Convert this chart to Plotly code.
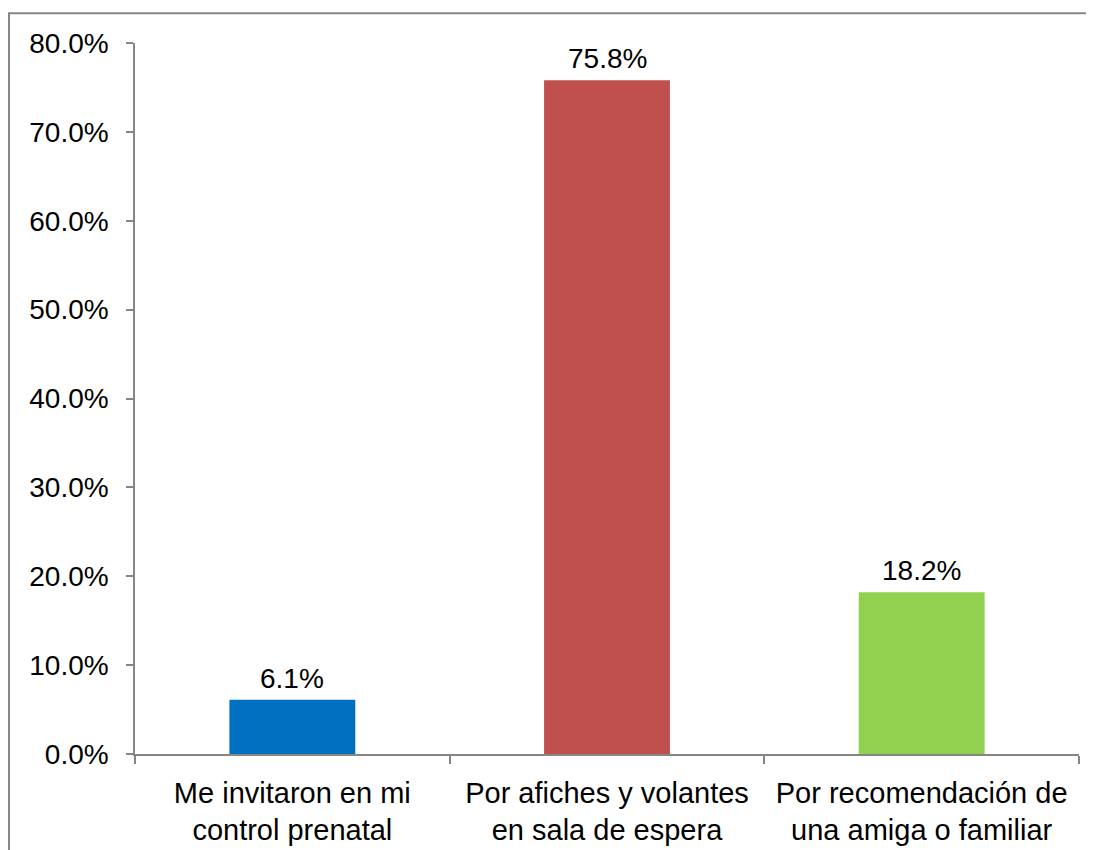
import plotly.graph_objects as go

categories = ["Me invitaron en mi<br>control prenatal",
              "Por afiches y volantes<br>en sala de espera",
              "Por recomendación de<br>una amiga o familiar"]
values = [6.1, 75.8, 18.2]
colors = ["#0070C0", "#C0504D", "#92D050"]
ytick_vals = [0, 10, 20, 30, 40, 50, 60, 70, 80]
ytick_text = ["0.0%", "10.0%", "20.0%", "30.0%", "40.0%", "50.0%", "60.0%", "70.0%", "80.0%"]

FONT = "Liberation Sans, Arial, sans-serif"
GRAY = "#868686"

fig = go.Figure(go.Bar(
    x=categories, y=values,
    marker=dict(color=colors, line=dict(width=0)),
    width=0.4,
    cliponaxis=False,
))

for c, v in zip(categories, values):
    fig.add_annotation(x=c, y=v, xref="x", yref="y", text=f"{v:.1f}%",
                       showarrow=False, yanchor="bottom", yshift=4,
                       font=dict(family=FONT, size=28, color="black"))

fig.update_layout(
    width=1094, height=850,
    margin=dict(l=127, r=23, t=35, b=101),
    paper_bgcolor="white", plot_bgcolor="white",
    showlegend=False,
    font=dict(family=FONT, size=28, color="black"),
    xaxis=dict(
        showline=True, linecolor=GRAY, linewidth=1.5,
        ticks="outside", tickson="boundaries", ticklen=8, tickcolor=GRAY, tickwidth=1.5,
        showgrid=False, ticklabelstandoff=12,
        tickfont=dict(family=FONT, size=29, color="black"),
    ),
    yaxis=dict(
        range=[0, 80], tickvals=ytick_vals, ticktext=ytick_text,
        showline=True, linecolor=GRAY, linewidth=1.5,
        ticks="outside", ticklen=7, tickcolor=GRAY, tickwidth=1.5,
        showgrid=False, zeroline=False, ticklabelstandoff=12,
        tickfont=dict(family=FONT, size=28, color="black"),
    ),
    shapes=[dict(type="rect", xref="paper", yref="paper",
                 x0=-0.1335, x1=1.03, y0=-0.2, y1=1.042,
                 line=dict(color=GRAY, width=2), fillcolor="rgba(0,0,0,0)", layer="below")],
)

fig.write_html("out.html")
